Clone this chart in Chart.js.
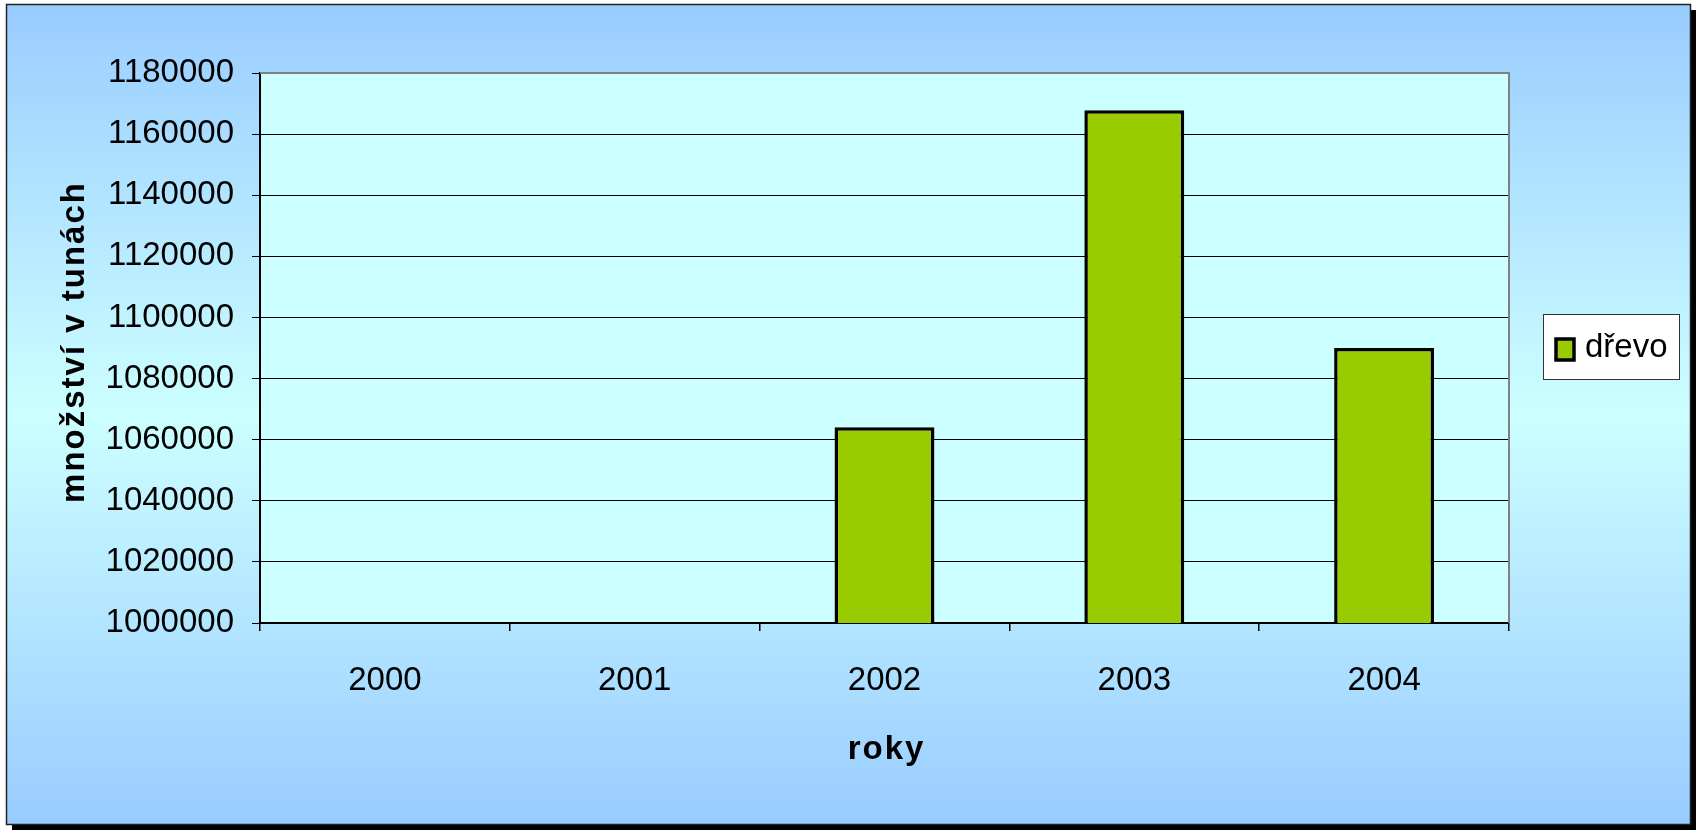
<!DOCTYPE html>
<html>
<head>
<meta charset="utf-8">
<script src="https://cdn.jsdelivr.net/npm/chart.js@4"></script>
<style>
  html, body { margin: 0; padding: 0; background: #ffffff; }
  #wrap { width: 1696px; height: 830px; position: relative; }
  canvas { display: block; }
</style>
</head>
<body>
<div id="wrap"><canvas id="c" width="1696" height="830"></canvas></div>
<script>
// ---- data ----
const categories = ['2000', '2001', '2002', '2003', '2004'];
const drevoValues = [null, null, 1064100, 1167800, 1090000];
const seriesLabel = 'dřevo';
const yTitle = 'množství v tunách';
const xTitle = 'roky';
const yMin = 1000000;
const yMax = 1180000;
const yStep = 20000;

const FONT = '"Liberation Sans", Arial, sans-serif';

const framePlugin = {
  id: 'frame',
  beforeDraw(chart) {
    const ctx = chart.ctx;
    const W = chart.width, H = chart.height;
    ctx.save();
    ctx.fillStyle = '#ffffff';
    ctx.fillRect(0, 0, W, H);
    // shadow
    ctx.fillStyle = '#000000';
    ctx.fillRect(12, 10, W - 12, H - 10);
    // gradient background
    const g = ctx.createLinearGradient(0, 4, 0, 824);
    g.addColorStop(0, '#99CCFF');
    g.addColorStop(0.5, '#CCFFFF');
    g.addColorStop(1, '#99CCFF');
    ctx.fillStyle = g;
    ctx.fillRect(6, 4, 1685, 821);
    ctx.strokeStyle = '#222222';
    ctx.lineWidth = 1.5;
    ctx.strokeRect(6.5, 4.5, 1684, 820);
    // plot area fill
    const a = chart.chartArea;
    ctx.fillStyle = '#CCFFFF';
    ctx.fillRect(a.left, a.top, a.right - a.left, a.bottom - a.top);
    ctx.restore();
  },
  beforeDatasetsDraw(chart) {
    const ctx = chart.ctx;
    const a = chart.chartArea;
    ctx.save();
    ctx.strokeStyle = '#808080';
    ctx.lineWidth = 2;
    ctx.beginPath();
    ctx.moveTo(a.left, a.top);
    ctx.lineTo(a.right, a.top);
    ctx.lineTo(a.right, a.bottom);
    ctx.stroke();
    ctx.restore();
  },
  afterDraw(chart) {
    const ctx = chart.ctx;
    const a = chart.chartArea;
    ctx.save();
    // axis titles with letter spacing
    ctx.fillStyle = '#000000';
    ctx.font = 'bold 33px ' + FONT;
    try { ctx.letterSpacing = '2px'; } catch (e) {}
    ctx.textAlign = 'center';
    ctx.textBaseline = 'middle';
    ctx.fillText(xTitle, (a.left + a.right) / 2 + 2, 750);
    ctx.save();
    ctx.translate(75, (a.top + a.bottom) / 2 - 6);
    ctx.rotate(-Math.PI / 2);
    ctx.fillText(yTitle, 0, 0);
    ctx.restore();
    try { ctx.letterSpacing = '0px'; } catch (e) {}
    // legend
    const ds = chart.data.datasets[0];
    const lx = 1543, ly = 314, lw = 136, lh = 65;
    ctx.fillStyle = '#ffffff';
    ctx.fillRect(lx, ly, lw, lh);
    ctx.strokeStyle = '#333333';
    ctx.lineWidth = 1;
    ctx.strokeRect(lx + 0.5, ly + 0.5, lw, lh);
    ctx.fillStyle = ds.backgroundColor;
    ctx.fillRect(1556, 339, 18, 21);
    ctx.strokeStyle = '#000000';
    ctx.lineWidth = 3.5;
    ctx.strokeRect(1556, 339, 18, 21);
    ctx.fillStyle = '#000000';
    ctx.font = '33px ' + FONT;
    ctx.textAlign = 'left';
    ctx.textBaseline = 'middle';
    ctx.fillText(ds.label, 1585, 348);
    ctx.restore();
  }
};

new Chart(document.getElementById('c'), {
  type: 'bar',
  data: {
    labels: categories,
    datasets: [{
      label: seriesLabel,
      data: drevoValues,
      backgroundColor: '#99CC00',
      borderColor: '#000000',
      borderWidth: 3.5,
      borderSkipped: false,
      categoryPercentage: 1.0,
      barPercentage: 0.4
    }]
  },
  options: {
    responsive: false,
    animation: false,
    devicePixelRatio: 1,
    layout: { padding: { left: 0, top: 73, right: 187, bottom: 107 } },
    plugins: {
      legend: { display: false },
      tooltip: { enabled: false },
      title: { display: false }
    },
    scales: {
      x: {
        offset: true,
        grid: {
          offset: true,
          drawOnChartArea: false,
          drawTicks: true,
          tickLength: 8,
          color: '#000000',
          lineWidth: 1.5
        },
        border: { display: true, color: '#000000', width: 2 },
        ticks: {
          color: '#000000',
          font: { family: FONT, size: 33 },
          padding: 30,
          maxRotation: 0
        },
        afterFit(scale) { scale.height = 100; }
      },
      y: {
        min: yMin,
        max: yMax,
        grid: {
          color: '#000000',
          lineWidth: 1,
          tickLength: 8,
          drawTicks: true
        },
        border: { display: true, color: '#000000', width: 2 },
        ticks: {
          stepSize: yStep,
          color: '#000000',
          font: { family: FONT, size: 33 },
          padding: 18,
          callback: (v) => String(v)
        },
        afterFit(scale) { scale.width = 260; }
      }
    }
  },
  plugins: [framePlugin]
});
</script>
</body>
</html>
